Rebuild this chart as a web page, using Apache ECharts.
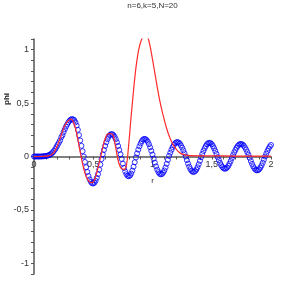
<!DOCTYPE html>
<html>
<head>
<meta charset="utf-8">
<script src="https://cdn.jsdelivr.net/npm/echarts@6/dist/echarts.min.js"></script>
<style>html,body{margin:0;padding:0;background:#fff}#c{width:305px;height:305px}</style>
</head>
<body>
<div id="c"></div>
<script>
var titleText = 'n=6,k=5,N=20';
var xName = 'r';
var yName = 'phi';

var blueR = [0,0.01,0.02,0.03,0.04,0.05,0.06,0.07,0.08,0.09,0.1,
0.11,0.12,0.13,0.14,0.15,0.16,0.17,0.18,0.19,0.2,
0.21,0.22,0.23,0.24,0.25,0.26,0.27,0.28,0.29,0.3,
0.31,0.32,0.33,0.34,0.35,0.36,0.37,0.38,0.39,0.4,
0.41,0.42,0.43,0.44,0.45,0.46,0.47,0.48,0.49,0.5,
0.51,0.52,0.53,0.54,0.55,0.56,0.57,0.58,0.59,0.6,
0.61,0.62,0.63,0.64,0.65,0.66,0.67,0.68,0.69,0.7,
0.71,0.72,0.73,0.74,0.75,0.76,0.77,0.78,0.79,0.8,
0.81,0.82,0.83,0.84,0.85,0.86,0.87,0.88,0.89,0.9,
0.91,0.92,0.93,0.94,0.95,0.96,0.97,0.98,0.99,1.0,
1.01,1.02,1.03,1.04,1.05,1.06,1.07,1.08,1.09,1.1,
1.11,1.12,1.13,1.14,1.15,1.16,1.17,1.18,1.19,1.2,
1.21,1.22,1.23,1.24,1.25,1.26,1.27,1.28,1.29,1.3,
1.31,1.32,1.33,1.34,1.35,1.36,1.37,1.38,1.39,1.4,
1.41,1.42,1.43,1.44,1.45,1.46,1.47,1.48,1.49,1.5,
1.51,1.52,1.53,1.54,1.55,1.56,1.57,1.58,1.59,1.6,
1.61,1.62,1.63,1.64,1.65,1.66,1.67,1.68,1.69,1.7,
1.71,1.72,1.73,1.74,1.75,1.76,1.77,1.78,1.79,1.8,
1.81,1.82,1.83,1.84,1.85,1.86,1.87,1.88,1.89,1.9,
1.91,1.92,1.93,1.94,1.95,1.96,1.97,1.98,1.99,2.0];

var bluePhi = [0,0,0,0,0,0,0,0.001,0.002,0.003,0.005,
0.007,0.01,0.015,0.02,0.03,0.04,0.055,0.07,0.09,0.11,
0.13,0.15,0.18,0.2,0.23,0.255,0.28,0.3,0.32,0.335,
0.345,0.35,0.348,0.34,0.32,0.29,0.25,0.2,0.15,0.1,
0.05,0,-0.051,-0.1,-0.144,-0.183,-0.215,-0.237,-0.25,-0.253,
-0.245,-0.227,-0.2,-0.165,-0.123,-0.076,-0.025,0.021,0.061,0.099,
0.133,0.162,0.185,0.201,0.209,0.209,0.201,0.185,0.162,0.133,
0.099,0.061,0.021,-0.023,-0.067,-0.107,-0.141,-0.166,-0.181,-0.185,
-0.178,-0.16,-0.132,-0.096,-0.054,-0.009,0.029,0.064,0.095,0.122,
0.144,0.158,0.165,0.163,0.154,0.138,0.115,0.086,0.053,0.018,
-0.02,-0.058,-0.093,-0.123,-0.146,-0.161,-0.167,-0.164,-0.151,-0.131,
-0.103,-0.069,-0.032,0.006,0.035,0.063,0.088,0.108,0.123,0.132,
0.135,0.131,0.121,0.104,0.083,0.058,0.03,0,-0.034,-0.066,
-0.095,-0.118,-0.135,-0.144,-0.144,-0.137,-0.122,-0.1,-0.073,-0.041,
-0.007,0.024,0.052,0.077,0.098,0.115,0.125,0.128,0.125,0.115,
0.098,0.077,0.052,0.024,-0.006,-0.034,-0.06,-0.082,-0.099,-0.11,
-0.115,-0.112,-0.103,-0.088,-0.067,-0.042,-0.014,0.013,0.039,0.062,
0.083,0.099,0.111,0.117,0.117,0.112,0.101,0.085,0.065,0.041,
0.016,-0.012,-0.042,-0.069,-0.093,-0.112,-0.124,-0.13,-0.128,-0.12,
-0.105,-0.084,-0.059,-0.03,0,0.027,0.052,0.075,0.094,0.108];

var redR = [0,0.05,0.1,0.12,0.14,0.16,0.18,0.2,0.22,0.24,0.26,0.28,0.3,0.31,0.32,0.33,0.35,0.37,0.39,0.41,0.43,0.45,0.47,0.49,0.51,0.53,0.55,0.57,0.59,0.61,0.62,0.64,0.66,0.67,0.68,0.69,0.7,0.71,0.72,0.73,0.74,0.76,0.77,0.78,0.79,0.8,0.81,0.82,0.83,0.84,0.85,0.86,0.87,0.88,0.89,0.9,0.92,0.94,0.96,0.98,1.0,1.02,1.04,1.06,1.08,1.1,1.12,1.14,1.16,1.18,1.2,1.22,1.25,1.3,1.4,1.6,1.8,2.0];
var redPhi = [0,0,0.003,0.006,0.012,0.03,0.06,0.11,0.17,0.235,0.29,0.325,0.345,0.35,0.345,0.33,0.265,0.16,0.04,-0.07,-0.155,-0.21,-0.238,-0.245,-0.22,-0.15,-0.06,0.035,0.13,0.195,0.21,0.215,0.21,0.19,0.14,0.08,0.02,-0.035,-0.075,-0.1,-0.115,-0.12,-0.115,-0.08,0,0.12,0.25,0.38,0.5,0.62,0.73,0.83,0.91,0.98,1.03,1.07,1.13,1.15,1.12,1.03,0.91,0.78,0.65,0.53,0.43,0.34,0.26,0.195,0.14,0.1,0.07,0.045,0.022,0.01,0.006,0.005,0.004,0.004];

function zip(a, b) { return a.map(function (v, i) { return [v, b[i]]; }); }
function fmt(v) {
  if (Math.abs(v * 2 - Math.round(v * 2)) > 1e-6) return '';
  var s = String(Math.round(v * 10) / 10);
  return s.replace('.', ',');
}

var FONT = 'Liberation Sans';
var axisColor = '#555';
var gridTop = 39, gridBottom = 31;
var yMin = -1.1, yMax = 1.1;
var chart = echarts.init(document.getElementById('c'), null, {renderer: 'canvas'});
var plotH = 305 - gridTop - gridBottom;
var zeroOffset = -plotH * (0 - yMin) / (yMax - yMin);
chart.setOption({
  animation: false,
  backgroundColor: '#fff',
  title: {text: titleText, left: 'center', top: 2, padding: 0,
    textStyle: {fontSize: 8, fontWeight: 'normal', color: '#333', fontFamily: FONT}},
  grid: {left: 34, right: 34, top: gridTop, bottom: gridBottom, containLabel: false},
  xAxis: {
    type: 'value', min: 0, max: 2, interval: 0.1,
    offset: zeroOffset,
    name: xName, nameLocation: 'middle', nameGap: 20,
    nameTextStyle: {fontSize: 8, color: '#333', fontFamily: FONT},
    axisLine: {onZero: false, lineStyle: {color: axisColor, width: 1.5}},
    axisTick: {length: 3, lineStyle: {color: axisColor, width: 1}},
    axisLabel: {formatter: fmt, fontSize: 9, color: '#333', margin: 4, fontFamily: FONT},
    splitLine: {show: false}
  },
  yAxis: {
    type: 'value', min: yMin, max: yMax, interval: 0.1,
    axisLine: {lineStyle: {color: axisColor, width: 1.5}},
    axisTick: {length: 3, lineStyle: {color: axisColor, width: 1}},
    axisLabel: {formatter: fmt, fontSize: 9, color: '#333', margin: 5, fontFamily: FONT},
    splitLine: {show: false}
  },
  graphic: [{
    type: 'text', left: 3, top: 93, rotation: Math.PI / 2,
    style: {text: yName, font: 'bold 8px ' + FONT, fill: '#222'}
  }],
  series: [
    {
      type: 'scatter', data: zip(blueR, bluePhi), symbol: 'circle', symbolSize: 5,
      itemStyle: {color: 'rgba(0,0,0,0)', borderColor: '#0000ff', borderWidth: 1},
      z: 2
    },
    {
      type: 'line', data: zip(redR, redPhi), showSymbol: false, smooth: 0.2,
      lineStyle: {color: '#ff2a2a', width: 1.2}, z: 3
    }
  ]
});
</script>
</body>
</html>
